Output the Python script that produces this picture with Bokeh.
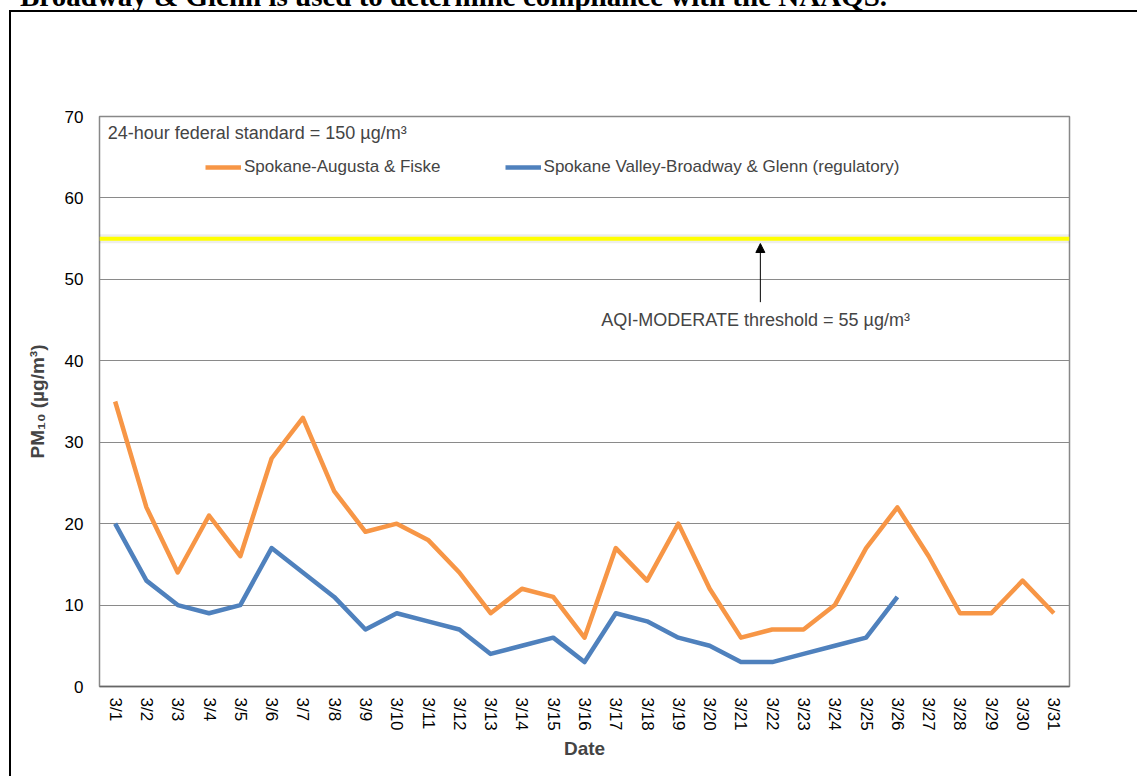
from bokeh.plotting import figure
from bokeh.models import (FactorRange, Range1d, Span, Arrow, NormalHead, Label,
                          Legend, LegendItem, ColumnDataSource, Div)
from bokeh.layouts import column
from bokeh.embed import file_html
from bokeh.resources import INLINE

dates = ["3/%d" % d for d in range(1, 32)]
augusta = [35, 22, 14, 21, 16, 28, 33, 24, 19, 20, 18, 14, 9, 12, 11, 6, 17, 13, 20, 12,
           6, 7, 7, 10, 17, 22, 16, 9, 9, 13, 9]
broadway = [20, 13, 10, 9, 10, 17, 14, 11, 7, 9, 8, 7, 4, 5, 6, 3, 9, 8, 6, 5,
            3, 3, 4, 5, 6, 11] + [float("nan")] * 5
y_ticks = [0, 10, 20, 30, 40, 50, 60, 70]
threshold = 55
page_text = "Broadway &amp; Glenn is used to determine compliance with the NAAQS."

FONT = "Liberation Sans"

p = figure(width=1128, height=766, x_range=FactorRange(*dates), y_range=Range1d(0, 70),
           output_backend="svg", toolbar_location=None,
           min_border_left=88, min_border_right=70, min_border_top=104, min_border_bottom=92)
p.margin = (0, 0, 0, 9)
p.styles = {"border-left": "2px solid black", "border-top": "2px solid black"}
p.background_fill_color = "white"
p.border_fill_color = "white"
p.outline_line_color = "#888888"
p.outline_line_width = 1.5

src = ColumnDataSource(dict(x=dates, a=augusta, b=broadway))

# threshold line with faint shadow
p.add_layout(Span(location=threshold, dimension="width", line_color="#000000",
                  line_alpha=0.07, line_width=9))
p.add_layout(Span(location=threshold, dimension="width", line_color="#FFFF00", line_width=4))

r1 = p.line("x", "a", source=src, line_color="#F79646", line_width=4.5, line_join="round")
r2 = p.line("x", "b", source=src, line_color="#4F81BD", line_width=4.5, line_join="round")

p.xgrid.grid_line_color = None
p.ygrid.grid_line_color = "#8a8a8a"
p.ygrid.grid_line_width = 1.2

p.yaxis.ticker = y_ticks
p.yaxis.axis_line_color = "#888888"
p.yaxis.major_tick_line_color = None
p.yaxis.minor_tick_line_color = None
p.yaxis.major_label_text_font = FONT
p.yaxis.major_label_text_font_size = "17px"
p.yaxis.major_label_text_color = "black"
p.yaxis.major_label_standoff = 10
p.yaxis.axis_label = "PM₁₀ (µg/m³)"
p.yaxis.axis_label_text_font = FONT
p.yaxis.axis_label_text_font_style = "bold"
p.yaxis.axis_label_text_font_size = "19px"
p.yaxis.axis_label_standoff = 14

p.xaxis.axis_line_color = "#666666"
p.xaxis.axis_line_width = 1.5
p.xaxis.major_tick_line_color = None
p.xaxis.minor_tick_line_color = None
p.xaxis.major_label_orientation = "vertical"
p.xaxis.major_label_text_font = FONT
p.xaxis.major_label_text_font_size = "17px"
p.xaxis.major_label_text_color = "black"
p.xaxis.major_label_standoff = 5
p.xaxis.axis_label = "Date"
p.xaxis.axis_label_text_font = FONT
p.xaxis.axis_label_text_font_style = "bold"
p.xaxis.axis_label_text_font_size = "19px"
p.xaxis.axis_label_standoff = 4

legend = Legend(items=[LegendItem(label="Spokane-Augusta & Fiske", renderers=[r1]),
                       LegendItem(label="Spokane Valley-Broadway & Glenn (regulatory)", renderers=[r2])],
                orientation="horizontal", location=(106, 509), glyph_width=36, glyph_height=20,
                label_standoff=3, spacing=64, padding=0, margin=0,
                border_line_color=None, background_fill_alpha=0,
                label_text_font=FONT, label_text_font_size="17px")
p.add_layout(legend, "center")

p.add_layout(Label(x=0.26, y=68.0, text="24-hour federal standard = 150 µg/m³",
                   text_font=FONT, text_font_size="18px", text_baseline="middle"))
p.add_layout(Label(x=20.97, y=44.95, text="AQI-MODERATE threshold = 55 µg/m³",
                   text_font=FONT, text_font_size="18px", text_baseline="middle",
                   text_align="center"))
p.add_layout(Arrow(x_start=21.12, y_start=47.2, x_end=21.12, y_end=54.4,
                   line_color="black", line_width=1,
                   end=NormalHead(size=9, fill_color="black", line_color="black")))

head = Div(text=('<div style="position:relative; top:-22px; left:20px; white-space:nowrap; '
                 'font-family:\'Liberation Serif\'; font-weight:bold; font-size:29px; '
                 'line-height:36px; color:black;">' + page_text + '</div>'),
           width=1139, height=10)
head.margin = 0

layout = column(head, p, spacing=0)
open("out.html", "w").write(file_html(layout, INLINE))
